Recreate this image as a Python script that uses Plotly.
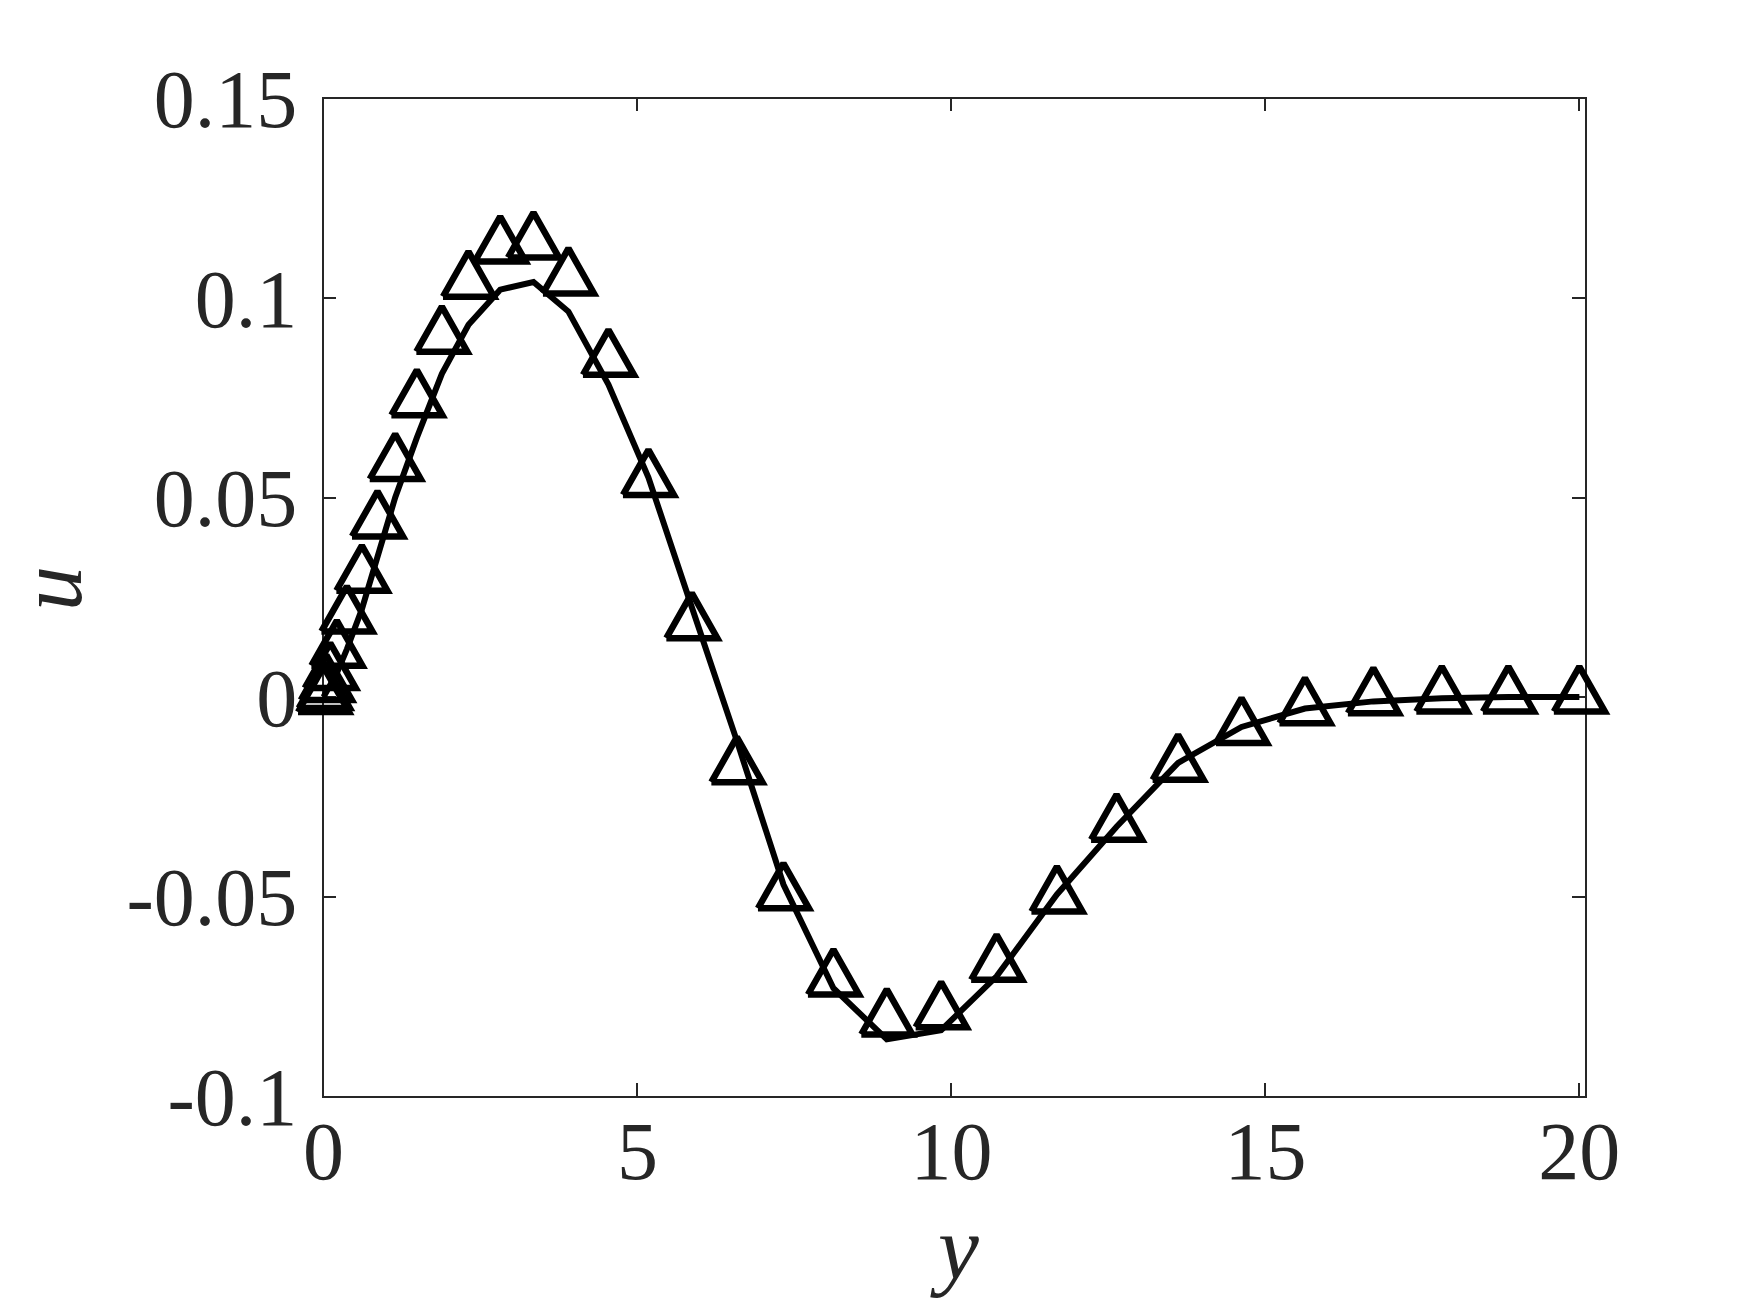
import plotly.graph_objects as go

# ---- data ----
y_grid = [0, 0.012, 0.045, 0.107, 0.213, 0.373, 0.611, 0.860, 1.142, 1.487, 1.885,
          2.309, 2.814, 3.344, 3.901, 4.538, 5.175, 5.866, 6.583, 7.325, 8.121,
          8.971, 9.836, 10.72, 11.68, 12.63, 13.61, 14.62, 15.63, 16.72, 17.81,
          18.87, 20.0]
u_markers = [0, 0.001, 0.003, 0.006, 0.0116, 0.0202, 0.0304, 0.0440, 0.0584, 0.0744,
             0.0903, 0.1041, 0.1129, 0.1139, 0.1049, 0.0845, 0.0544, 0.0185, -0.0176,
             -0.0492, -0.0708, -0.0808, -0.0790, -0.0671, -0.0500, -0.0320, -0.0170,
             -0.0078, -0.0028, -0.0003, 0.0001, 0.0001, 0.0001]
u_line = [0, 0.0003, 0.001, 0.003, 0.006, 0.012, 0.022, 0.035, 0.050, 0.065, 0.081,
          0.0933, 0.1021, 0.1040, 0.0966, 0.0783, 0.0550, 0.0225, -0.011, -0.047,
          -0.073, -0.0858, -0.0835, -0.0700, -0.0495, -0.0325, -0.0165, -0.0075,
          -0.0029, -0.0011, -0.0003, 0.0, 0.0]
x_ticks = [0, 5, 10, 15, 20]
x_ticklabels = ["0", "5", "10", "15", "20"]
y_ticks = [-0.1, -0.05, 0, 0.05, 0.1, 0.15]
y_ticklabels = ["-0.1", "-0.05", "0", "0.05", "0.1", "0.15"]

# ---- layout geometry (pixels) ----
W, H = 1750, 1313
# outer drawing area (margins)
ML, MR, MT, MB = 200, 100, 40, 150
AW, AH = W - ML - MR, H - MT - MB
# frame (visible axes box) in pixels
FL, FR, FT, FB = 323.5, 1585.0, 98.5, 1096.0
xr = [0, 20.09]
yr = [-0.1, 0.15]
px_x = (FR - FL) / (xr[1] - xr[0])
px_y = (FB - FT) / (yr[1] - yr[0])


def pxx(p):  # pixel x -> paper fraction
    return (p - ML) / AW


def pxy(p):  # pixel y -> paper fraction
    return (H - MB - p) / AH


# data axes cover the whole drawing area (so markers are not clipped at the frame)
xr_data = [xr[0] - (FL - ML) / px_x, xr[1] + (W - MR - FR) / px_x]
yr_data = [yr[0] - (H - MB - FB) / px_y, yr[1] + (FT - MT) / px_y]

# triangle marker geometry (pixels -> data units)
half_w = 25.5 / px_x
up = 30.0 / px_y
dn = 15.0 / px_y
tx, ty = [], []
for xv, yv in zip(y_grid, u_markers):
    tx += [xv - half_w, xv + half_w, xv, xv - half_w, None]
    ty += [yv - dn, yv - dn, yv + up, yv - dn, None]

fig = go.Figure()
fig.add_trace(go.Scatter(x=y_grid, y=u_line, mode="lines", xaxis="x2", yaxis="y2",
                         line=dict(color="black", width=6), showlegend=False,
                         hoverinfo="skip"))
fig.add_trace(go.Scatter(x=tx, y=ty, mode="lines", xaxis="x2", yaxis="y2",
                         line=dict(color="black", width=6.5), showlegend=False,
                         hoverinfo="skip"))
# invisible trace anchoring the frame axes
fig.add_trace(go.Scatter(x=[xr[0]], y=[yr[0]], mode="markers", marker=dict(opacity=0),
                         showlegend=False, hoverinfo="skip"))

tickfont = dict(family="Liberation Serif", size=82, color="#262626")
axis_common = dict(showline=True, linecolor="#262626", linewidth=1.5, mirror="ticks",
                   ticks="inside", ticklen=13, tickwidth=1.5, tickcolor="#262626",
                   showgrid=False, zeroline=False, tickfont=tickfont)

fig.update_layout(
    width=W, height=H,
    margin=dict(l=ML, r=MR, t=MT, b=MB, autoexpand=False),
    plot_bgcolor="rgba(0,0,0,0)", paper_bgcolor="white",
    xaxis=dict(range=xr, tickvals=x_ticks, ticktext=x_ticklabels,
               domain=[pxx(FL), pxx(FR)], anchor="y", ticklabelstandoff=-17,
               **axis_common),
    yaxis=dict(range=yr, tickvals=y_ticks, ticktext=y_ticklabels,
               domain=[pxy(FB), pxy(FT)], anchor="x", ticklabelstandoff=8,
               **axis_common),
    xaxis2=dict(range=xr_data, domain=[0, 1], anchor="y2", visible=False),
    yaxis2=dict(range=yr_data, domain=[0, 1], anchor="x2", visible=False),
    annotations=[
        dict(text="<i>y</i>", xref="paper", yref="paper", x=pxx(954), y=pxy(1248),
             xanchor="center", yanchor="middle", showarrow=False,
             font=dict(family="Liberation Serif", size=92, color="#262626")),
        dict(text="<i>u</i>", xref="paper", yref="paper", x=pxx(50), y=pxy(589),
             xanchor="center", yanchor="middle", showarrow=False, textangle=-90,
             font=dict(family="Liberation Serif", size=90, color="#262626")),
    ],
)
fig.write_html("out.html", config={"displayModeBar": False},
               post_script="document.body.style.margin='0';document.body.style.overflow='hidden';")
